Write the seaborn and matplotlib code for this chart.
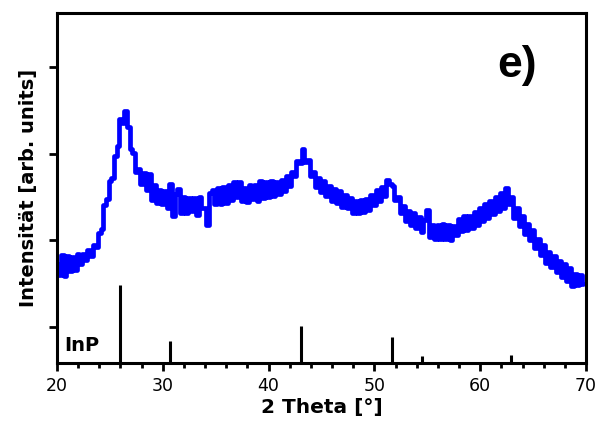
import numpy as np
import pandas as pd
import seaborn as sns
import matplotlib
matplotlib.use("Agg")
import matplotlib.pyplot as plt
from matplotlib.ticker import MultipleLocator

# Measured diffraction pattern (2 theta in degrees, intensity in arb. units)
two_theta = np.round(np.arange(20.0, 70.0, 0.25), 2)
intensity = [
    99, 88, 108, 87, 107, 92, 106, 93, 109, 99, 109, 103, 113, 107, 118, 116,
    130, 134, 158, 164, 182, 185, 207, 217, 244, 240, 252, 236, 214, 210, 191, 194,
    179, 190, 173, 189, 163, 178, 160, 173, 159, 172, 155, 179, 147, 169, 174, 150,
    166, 150, 165, 152, 165, 148, 166, 155, 155, 138, 170, 173, 159, 175, 159, 176,
    160, 178, 163, 181, 166, 181, 162, 175, 161, 178, 164, 178, 162, 182, 165, 181,
    166, 182, 167, 181, 169, 183, 172, 187, 177, 191, 187, 202, 200, 214, 201, 203,
    187, 191, 176, 185, 171, 182, 167, 177, 162, 174, 160, 172, 156, 168, 155, 165,
    150, 162, 150, 163, 151, 164, 153, 168, 158, 173, 162, 176, 167, 183, 179, 177,
    163, 166, 150, 157, 142, 152, 138, 150, 135, 146, 131, 143, 153, 126, 138, 124,
    138, 124, 139, 124, 138, 123, 137, 128, 144, 132, 147, 133, 147, 135, 151, 138,
    155, 142, 159, 145, 162, 149, 166, 152, 170, 155, 175, 159, 166, 145, 155, 137,
    147, 129, 139, 123, 133, 115, 124, 108, 118, 100, 111, 96, 107, 91, 102, 86,
    99, 82, 95, 77, 89, 78, 88, 79,
]

# InP reference reflections
ref_positions = [25.97, 30.7, 43.1, 51.7, 54.5, 62.9]
ref_heights = [1.48, 0.84, 1.01, 0.885, 0.67, 0.68]

# y axis in arb. units: ticks sit every 86.7 units, the first 36 units above the floor
tick_step = 86.7
tick_base = 36
ytick_values = [tick_base + i * tick_step for i in range(4)]
y_max = 350

pattern = pd.DataFrame({"two_theta": two_theta, "intensity": intensity})

sns.set_style("ticks")
plt.rcParams["font.family"] = ["DejaVu Sans"]
plt.rcParams.update({
    "text.color": "black",
    "axes.labelcolor": "black",
    "xtick.color": "black",
    "ytick.color": "black",
})

fig = plt.figure(figsize=(6.02, 4.32), dpi=100)
ax = fig.add_axes([0.0947, 0.1597, 0.9734 - 0.0947, 0.9699 - 0.1597])

sns.lineplot(data=pattern, x="two_theta", y="intensity", ax=ax,
             color="#0000ff", linewidth=3.4, sort=True, drawstyle="steps-mid")

# reference sticks, heights given in tick units above the lowest tick
stick_tops = [tick_base + (h - 1.0) * tick_step for h in ref_heights]
ax.vlines(ref_positions, 0, stick_tops, colors="black", linewidth=2.2)

ax.set_xlim(20, 70)
ax.set_ylim(0, y_max)
ax.xaxis.set_major_locator(MultipleLocator(10))
ax.xaxis.set_minor_locator(MultipleLocator(2))
ax.set_yticks(ytick_values)
ax.set_yticklabels([])

for side in ["top", "bottom", "left", "right"]:
    ax.spines[side].set_linewidth(2.2)
    ax.spines[side].set_color("black")
    ax.spines[side].set_visible(True)

ax.tick_params(axis="x", which="major", length=6, width=2, direction="out",
               labelsize=12.5, pad=4)
ax.tick_params(axis="x", which="minor", length=3.5, width=2, direction="out")
ax.tick_params(axis="y", which="major", length=5.5, width=2, direction="out",
               left=True, right=False)
ax.tick_params(top=False, right=False)

ax.set_xlabel("2 Theta [°]", fontsize=14.5, fontweight="bold", labelpad=2)
ax.set_ylabel("Intensität [arb. units]", fontsize=14, fontweight="bold", labelpad=5)

ax.text(0.0135, 0.05, "InP", transform=ax.transAxes, fontsize=14,
        fontweight="bold", ha="left", va="center")
ax.text(0.87, 0.851, "e)", transform=ax.transAxes, fontsize=32,
        fontweight="bold", ha="center", va="center", family=["Liberation Sans"])

fig.savefig("out.png", dpi=100)
